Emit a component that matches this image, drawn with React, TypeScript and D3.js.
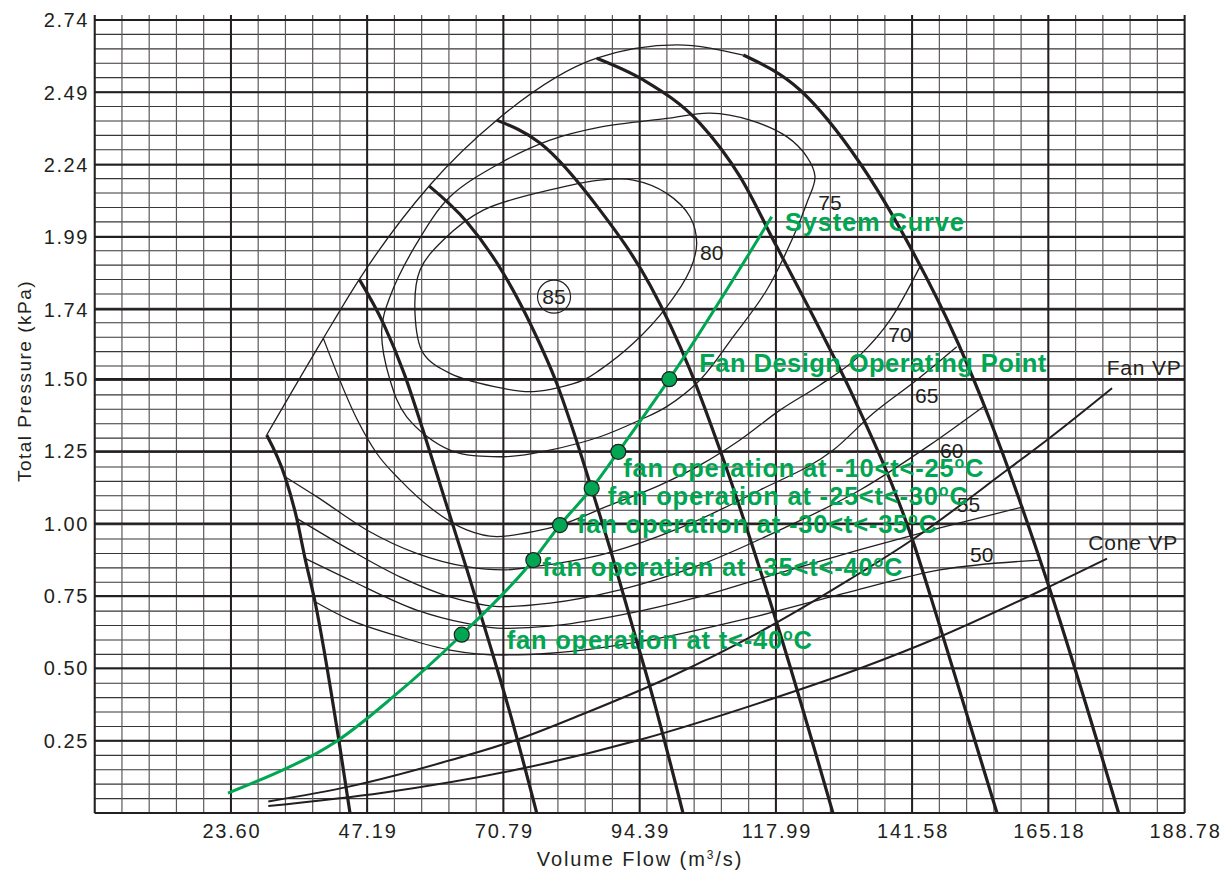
import React from 'react';
import * as d3 from 'd3';

// axis ticks (as printed)
const xTickLabels = ['23.60', '47.19', '70.79', '94.39', '117.99', '141.58', '165.18', '188.78'];
const yTickLabels = ['0.25', '0.50', '0.75', '1.00', '1.25', '1.50', '1.74', '1.99', '2.24', '2.49', '2.74'];

// [volume flow m3/s, total pressure kPa]
type Pt = [number, number];

// thick blade-angle curves, left to right
const blade1: Pt[] = [[29.79, 1.306], [32.96, 1.162], [34.99, 1.018], [36.43, 0.88], [38.16, 0.73], [42.19, 0.264], [44.22, 0]];
const blade2: Pt[] = [[45.83, 1.844], [49.99, 1.692], [53.57, 1.52], [56.86, 1.323], [60.68, 1.081], [64.49, 0.84], [68.47, 0.58], [72.28, 0.321], [76.56, 0]];
const blade3: Pt[] = [[57.96, 2.166], [64.43, 2.043], [70.77, 1.865], [75.97, 1.669], [80.02, 1.485], [83.02, 1.313], [86.14, 1.116], [89.6, 0.891], [93.07, 0.65], [97.05, 0.373], [101.9, 0]];
const blade4: Pt[] = [[69.63, 2.394], [77.13, 2.315], [87.52, 2.083], [96.18, 1.824], [103.11, 1.531], [108.31, 1.254], [117.99, 0.667], [127.87, 0]];
const blade5: Pt[] = [[86.95, 2.608], [95.02, 2.533], [104.84, 2.383], [111.77, 2.199], [118.13, 1.957], [125.06, 1.692], [131.4, 1.438], [141.46, 0.955], [146.41, 0.644], [156.29, 0]];
const blade6: Pt[] = [[112.34, 2.619], [122.16, 2.498], [132.56, 2.245], [141.22, 1.957], [149.53, 1.624], [155.07, 1.358], [164.9, 0.805], [177.35, 0]];

// stall envelope (thin)
const envelope: Pt[] = [[29.79, 1.306], [39.6, 1.64], [45.83, 1.844], [58.08, 2.17], [69.63, 2.394], [86.95, 2.608], [100.81, 2.654], [112.34, 2.619]];

// efficiency contours
const eff80: Pt[] = [[56.35, 1.876], [60.38, 1.98], [67.31, 2.083], [78.86, 2.153], [87.52, 2.187], [93.29, 2.187], [99.08, 2.141], [103.11, 2.06], [104.27, 1.968], [103.11, 1.876], [99.08, 1.749], [93.29, 1.623], [87.52, 1.531], [84.63, 1.496], [75.97, 1.456], [70.77, 1.467], [61.54, 1.519], [56.92, 1.588], [55.48, 1.727]];
const eff75: Pt[] = [[49.71, 1.669], [51.15, 1.784], [55.77, 1.968], [61.54, 2.129], [70.2, 2.245], [78.86, 2.325], [87.52, 2.37], [99.08, 2.4], [106.58, 2.418], [113.5, 2.394], [119.86, 2.337], [123.33, 2.268], [124.76, 2.199], [123.33, 2.107], [121.0, 1.991], [116.4, 1.807], [110.61, 1.646], [104.84, 1.496], [99.08, 1.404], [94.45, 1.358], [87.52, 1.3], [78.86, 1.254], [70.77, 1.231], [61.54, 1.254], [54.04, 1.369], [51.15, 1.496]];
const eff70: Pt[] = [[39.6, 1.64], [45.5, 1.358], [48.84, 1.243], [52.88, 1.151], [58.65, 1.047], [64.43, 0.978], [69.63, 0.955], [75.97, 0.972], [80.59, 0.995], [89.25, 1.064], [97.92, 1.133], [104.84, 1.202], [111.77, 1.289], [118.7, 1.392], [125.63, 1.479], [132.56, 1.582], [137.75, 1.703], [142.95, 1.888]];
const eff65: Pt[] = [[32.96, 1.162], [38.45, 1.093], [47.11, 0.978], [55.77, 0.897], [64.43, 0.851], [70.77, 0.84], [75.97, 0.851], [87.52, 0.891], [101.38, 0.985], [115.24, 1.116], [127.93, 1.254], [134.86, 1.381], [142.38, 1.496], [149.31, 1.611]];
const eff60: Pt[] = [[34.99, 1.018], [44.22, 0.909], [52.88, 0.816], [61.54, 0.747], [70.77, 0.713], [78.86, 0.725], [90.99, 0.771], [104.84, 0.857], [118.7, 0.978], [132.56, 1.116], [144.68, 1.272], [153.92, 1.404]];
const eff55: Pt[] = [[36.43, 0.88], [44.22, 0.805], [55.77, 0.701], [64.43, 0.655], [70.77, 0.638], [78.86, 0.646], [90.99, 0.684], [104.84, 0.748], [118.7, 0.83], [132.56, 0.91], [146.41, 0.985], [160.84, 1.058]];
const eff50: Pt[] = [[38.16, 0.73], [44.22, 0.667], [52.88, 0.609], [61.54, 0.563], [70.77, 0.546], [78.86, 0.552], [96.18, 0.598], [113.5, 0.674], [130.83, 0.764], [146.41, 0.84], [163.73, 0.874]];

// velocity pressure lines
const fanVP: Pt[] = [[30.07, 0.04], [44.22, 0.092], [61.54, 0.182], [73.15, 0.253], [84.58, 0.342], [99.65, 0.47], [115.24, 0.626], [130.83, 0.808], [141.74, 0.946], [158.02, 1.185], [164.95, 1.289], [176.21, 1.468]];
const coneVP: Pt[] = [[30.07, 0.024], [49.94, 0.07], [73.15, 0.15], [94.45, 0.253], [118.01, 0.399], [132.73, 0.501], [146.41, 0.609], [165.64, 0.785], [175.34, 0.879]];

// system curve and operating points
const systemCurve: Pt[] = [[23.09, 0.069], [32.62, 0.149], [38.5, 0.207], [41.97, 0.249], [51.67, 0.401], [63.57, 0.616], [75.97, 0.874], [80.59, 0.995], [86.08, 1.122], [90.69, 1.248], [99.53, 1.499], [117.26, 2.06]];
const opPoints: Pt[] = [[63.57, 0.616], [75.97, 0.874], [80.59, 0.995], [86.08, 1.122], [90.69, 1.248], [99.53, 1.499]];
const opLabels = ['fan operation at t<-40', 'fan operation at -35<t<-40', 'fan operation at -30<t<-35', 'fan operation at -25<t<-30', 'fan operation at -10<t<-25', 'Fan Design Operating Point'];
const opHasDeg = [true, true, true, true, true, false];
// label offsets from the dots, px
const opOffsets: [number, number][] = [[45, 14], [9, 16], [17, 8], [16, 17], [5, 25], [30, -7]];
const opSpacing = [0.8, 0.8, 0.8, 0.8, 0.8, 0.45];

const contourLabels = ['80', '75', '70', '65', '60', '55', '50'];
const contourLabelAt: Pt[] = [[104.84, 1.911], [125.33, 2.083], [137.46, 1.628], [142.08, 1.416], [146.41, 1.227], [149.31, 1.041], [151.61, 0.868]];
const peakLabel = '85';
const peakAt: Pt = [79.56, 1.784];

const W = 1232;
const H = 875;
const FONT = '"Liberation Sans", Arial, Helvetica, sans-serif';
const INK = '#231f20';
const GREEN = '#00a651';

const x = d3.scaleLinear().domain([0, 188.78]).range([94.7, 1184.6]);
const y = d3.scaleLinear().domain([0, 2.74]).range([813, 20]);

const line = d3.line<Pt>().x(d => x(d[0])).y(d => y(d[1])).curve(d3.curveMonotoneX);
const loop = d3.line<Pt>().x(d => x(d[0])).y(d => y(d[1])).curve(d3.curveCatmullRomClosed.alpha(0.5));

export default function App() {
  const [x0, x1] = x.range();
  const [y0, y1] = y.range();
  const xMinor = d3.range(0, 41).map(i => (188.78 * i) / 40);
  const yMinor = d3.range(0, 56).map(i => (2.74 * i) / 55);
  const xMajor = xTickLabels.map(Number);
  const yMajor = yTickLabels.map(Number);

  const blades = [blade1, blade2, blade3, blade4, blade5, blade6];
  const openContours = [eff70, eff65, eff60, eff55, eff50];

  return (
    <svg width={W} height={H} style={{ position: 'absolute', left: 0, top: 0, background: '#fff' }} fontFamily={FONT}>
      {/* grid */}
      <g>
        {yMinor.map((v, i) => (
          <line key={'hy' + i} x1={x0} x2={x1} y1={y(v)} y2={y(v)} stroke="#3a3536" strokeWidth={1.1} />
        ))}
        {xMinor.map((v, i) => (
          <line key={'vx' + i} x1={x(v)} x2={x(v)} y1={y1 - 5} y2={y0} stroke="#5e5a5b" strokeWidth={1.2} />
        ))}
        {yMajor.map((v, i) => (
          <line key={'Hy' + i} x1={x0} x2={x1} y1={y(v)} y2={y(v)} stroke={INK} strokeWidth={2} />
        ))}
        {xMajor.map((v, i) => (
          <line key={'Vx' + i} x1={x(v)} x2={x(v)} y1={y1 - 5} y2={y0} stroke={INK} strokeWidth={2} />
        ))}
        <line x1={x0} x2={x0} y1={y1 - 5} y2={y0} stroke={INK} strokeWidth={2} />
        <line x1={x0} x2={x1} y1={y0} y2={y0} stroke={INK} strokeWidth={2} />
      </g>

      {/* tick labels */}
      {yTickLabels.map(t => (
        <text key={'yl' + t} x={89} y={y(Number(t))} dy="0.36em" textAnchor="end" fontSize={20} letterSpacing={1.6} fill={INK}>{t}</text>
      ))}
      {xTickLabels.map(t => (
        <text key={'xl' + t} x={x(Number(t)) + 1} y={838} textAnchor="middle" fontSize={20} letterSpacing={1.8} fill={INK}>{t}</text>
      ))}
      <text x={640} y={866} textAnchor="middle" fontSize={20} letterSpacing={1.9} fill={INK}>
        Volume Flow (m<tspan fontSize={12} dy={-7}>3</tspan><tspan dy={7}>/s)</tspan>
      </text>
      <text transform="translate(31,381) rotate(-90)" textAnchor="middle" fontSize={19} letterSpacing={1.5} fill={INK}>Total Pressure (kPa)</text>

      {/* efficiency contours */}
      <g fill="none" stroke={INK} strokeWidth={1.3}>
        <path d={loop(eff80) ?? ''} />
        <path d={loop(eff75) ?? ''} />
        {openContours.map((c, i) => <path key={'oc' + i} d={line(c) ?? ''} />)}
        <path d={line(envelope) ?? ''} />
      </g>

      {/* velocity pressure lines */}
      <g fill="none" stroke={INK} strokeWidth={2}>
        <path d={line(fanVP) ?? ''} />
        <path d={line(coneVP) ?? ''} />
      </g>

      {/* blade curves */}
      <g fill="none" stroke={INK} strokeWidth={3.2}>
        {blades.map((b, i) => <path key={'b' + i} d={line(b) ?? ''} />)}
      </g>

      {/* contour labels */}
      {contourLabels.map((t, i) => (
        <text key={'cl' + t} x={x(contourLabelAt[i][0])} y={y(contourLabelAt[i][1])} fontSize={21} fill={INK}>{t}</text>
      ))}
      <circle cx={x(peakAt[0])} cy={y(peakAt[1])} r={16.5} fill="none" stroke={INK} strokeWidth={1.2} />
      <text x={x(peakAt[0])} y={y(peakAt[1]) + 7.5} textAnchor="middle" fontSize={21} fill={INK}>{peakLabel}</text>
      <text x={x(175.29)} y={y(1.513)} fontSize={21} letterSpacing={0.8} fill={INK}>Fan VP</text>
      <text x={x(172.1)} y={y(0.909)} fontSize={21} letterSpacing={0.8} fill={INK}>Cone VP</text>

      {/* system curve */}
      <path d={line(systemCurve) ?? ''} fill="none" stroke={GREEN} strokeWidth={3} />
      <text x={x(119.57)} y={y(2.011)} fontSize={25.5} letterSpacing={0.8} fontWeight="bold" fill={GREEN}>System Curve</text>
      {opPoints.map((p, i) => (
        <g key={'op' + i}>
          <circle cx={x(p[0])} cy={y(p[1])} r={7.5} fill={GREEN} stroke={INK} strokeWidth={1.2} />
          <text x={x(p[0]) + opOffsets[i][0]} y={y(p[1]) + opOffsets[i][1]} fontSize={25.5} letterSpacing={opSpacing[i]} fontWeight="bold" fill={GREEN}>
            {opLabels[i]}
            {opHasDeg[i] ? <tspan><tspan fontSize={16} dy={-9}>o</tspan><tspan dy={9}>C</tspan></tspan> : null}
          </text>
        </g>
      ))}
    </svg>
  );
}
